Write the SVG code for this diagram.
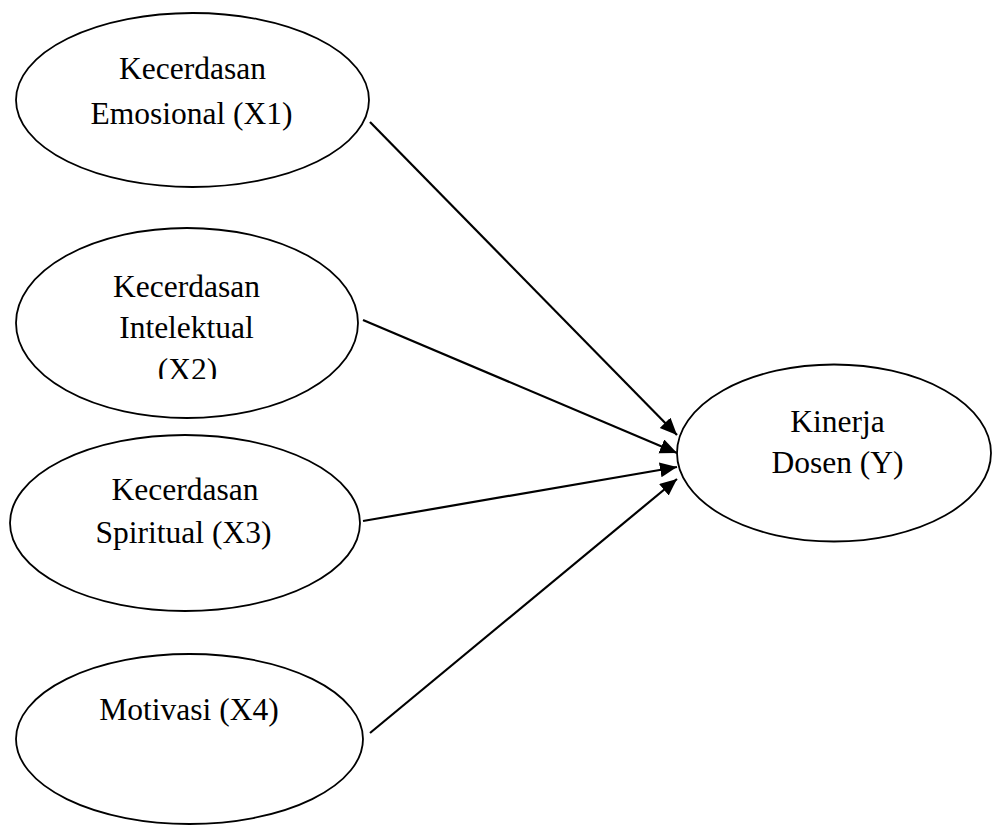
<svg xmlns="http://www.w3.org/2000/svg" width="992" height="825" viewBox="0 0 992 825">
<defs>
<style>
.node ellipse{fill:#fff;stroke:#000;stroke-width:1.8}
.lbl{font-family:"Liberation Serif","Times New Roman",serif;font-size:31.5px;fill:#000;text-anchor:middle}
.edge{stroke:#000;stroke-width:2.2;fill:none;marker-end:url(#ah)}
</style>
<marker id="ah" markerUnits="userSpaceOnUse" markerWidth="18" markerHeight="16" refX="17" refY="7.5" orient="auto" viewBox="0 0 18 16">
<path d="M0,0 L17,7.5 L0,15 z" fill="#000"/>
</marker>
<clipPath id="clipX2"><rect x="0" y="200" width="400" height="179"/></clipPath>
</defs>
<rect width="992" height="825" fill="#fff"/>
<g id="X1" class="node">
<ellipse cx="192.5" cy="100" rx="176.5" ry="87"/>
<text class="lbl" x="192.5" y="79">Kecerdasan</text>
<text class="lbl" x="191.5" y="124">Emosional (X1)</text>
</g>
<g id="X2" class="node">
<ellipse cx="187" cy="323" rx="171" ry="95"/>
<text class="lbl" x="186.5" y="297">Kecerdasan</text>
<text class="lbl" x="186.5" y="338">Intelektual</text>
<g clip-path="url(#clipX2)"><text class="lbl" x="187.5" y="380">(X2)</text></g>
</g>
<g id="X3" class="node">
<ellipse cx="185" cy="523" rx="175" ry="88"/>
<text class="lbl" x="185" y="500">Kecerdasan</text>
<text class="lbl" x="183.5" y="543">Spiritual (X3)</text>
</g>
<g id="X4" class="node">
<ellipse cx="189.5" cy="739" rx="173.5" ry="85"/>
<text class="lbl" x="189" y="720">Motivasi (X4)</text>
</g>
<g id="Y" class="node">
<ellipse cx="834" cy="453" rx="157" ry="88.5"/>
<text class="lbl" x="837.5" y="432">Kinerja</text>
<text class="lbl" x="837.5" y="473">Dosen (Y)</text>
</g>
<g id="connectors">
<line class="edge" x1="370" y1="122" x2="677" y2="435"/>
<line class="edge" x1="363" y1="320" x2="677" y2="453"/>
<line class="edge" x1="363" y1="521" x2="677" y2="467"/>
<line class="edge" x1="370" y1="733" x2="677" y2="479"/>
</g>
</svg>
